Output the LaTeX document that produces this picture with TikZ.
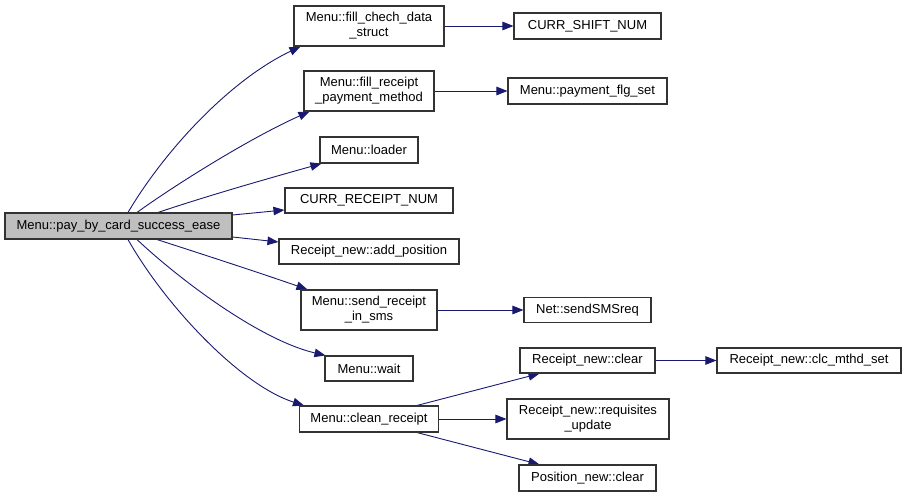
\documentclass[tikz,border=0pt]{standalone}
\usepackage{fontspec}
\setmainfont{Liberation Sans}
\usetikzlibrary{arrows.meta}
\pgfdeclarelayer{edges}
\pgfsetlayers{edges,main}
\definecolor{edgeblue}{HTML}{191970}
\definecolor{nodegray}{HTML}{BFBFBF}
\definecolor{bordergray}{HTML}{333333}
\begin{document}
\begin{tikzpicture}[x=1pt,y=1pt,
  fn/.style={draw=bordergray,line width=1.1pt,fill=white,inner sep=0pt,align=center,
    font=\fontsize{13}{15}\selectfont,text=black},
  callarrow/.style={draw=edgeblue,line width=0.9pt,-{Triangle[length=11pt,width=8.5pt]}}]
\useasboundingbox (0,0) rectangle (907,-497);
% nodes
\node[fn,fill=nodegray,minimum width=227pt,minimum height=26pt] (main) at (118.5,-226) {Menu::pay\_by\_card\_success\_ease};
\node[fn,minimum width=150pt,minimum height=40pt] (fcd) at (369,-26) {Menu::fill\_chech\_data\\\_struct};
\node[fn,minimum width=147pt,minimum height=26pt] (shift) at (587.5,-26) {CURR\_SHIFT\_NUM};
\node[fn,minimum width=130pt,minimum height=40pt] (frpm) at (369,-91) {Menu::fill\_receipt\\\_payment\_method};
\node[fn,minimum width=159pt,minimum height=26pt] (pfs) at (587.5,-91) {Menu::payment\_flg\_set};
\node[fn,minimum width=98pt,minimum height=26pt] (loader) at (369,-150) {Menu::loader};
\node[fn,minimum width=168pt,minimum height=25pt] (crn) at (369,-200.5) {CURR\_RECEIPT\_NUM};
\node[fn,minimum width=180pt,minimum height=25pt] (addpos) at (369,-251.5) {Receipt\_new::add\_position};
\node[fn,minimum width=136pt,minimum height=40pt] (srs) at (369,-310) {Menu::send\_receipt\\\_in\_sms};
\node[fn,minimum width=127pt,minimum height=25pt] (sms) at (587.5,-310) {Net::sendSMSreq};
\node[fn,minimum width=88pt,minimum height=25pt] (wait) at (369,-368.5) {Menu::wait};
\node[fn,minimum width=139pt,minimum height=26pt] (clean) at (369,-419) {Menu::clean\_receipt};
\node[fn,minimum width=135pt,minimum height=25pt] (rclear) at (587.5,-360.5) {Receipt\_new::clear};
\node[fn,minimum width=184pt,minimum height=25pt] (clc) at (809,-360.5) {Receipt\_new::clc\_mthd\_set};
\node[fn,minimum width=162pt,minimum height=40pt] (req) at (588,-419) {Receipt\_new::requisites\\\_update};
\node[fn,minimum width=137pt,minimum height=26pt] (pclear) at (587.5,-478) {Position\_new::clear};
\begin{pgfonlayer}{edges}
% edges from main
\draw[callarrow] ([xshift=9.5pt]main.north) .. controls (165,-150) and (230,-80) .. ([xshift=7pt]fcd.south west);
\draw[callarrow] ([xshift=18.5pt]main.north) .. controls (175,-185) and (250,-138) .. ([xshift=6pt]frpm.south west);
\draw[callarrow] ([xshift=39.5pt]main.north) .. controls (210,-195) and (270,-178) .. ([xshift=2pt]loader.south west);
\draw[callarrow] ([yshift=11pt]main.east) -- ([yshift=-9.5pt]crn.west);
\draw[callarrow] ([yshift=-11pt]main.east) -- ([yshift=9.5pt]addpos.west);
\draw[callarrow] ([xshift=38.5pt]main.south) .. controls (205,-255) and (260,-273) .. ([xshift=7pt]srs.north west);
\draw[callarrow] ([xshift=18.5pt]main.south) .. controls (180,-280) and (260,-340) .. ([xshift=1pt]wait.north west);
\draw[callarrow] ([xshift=9.5pt]main.south) .. controls (165,-305) and (240,-385) .. ([xshift=5pt]clean.north west);
% secondary edges
\draw[callarrow] (fcd.east) -- (shift.west);
\draw[callarrow] (frpm.east) -- (pfs.west);
\draw[callarrow] (srs.east) -- (sms.west);
\draw[callarrow] (rclear.east) -- (clc.west);
\draw[callarrow] ([xshift=-22pt]clean.north east) -- ([xshift=20pt]rclear.south west);
\draw[callarrow] (clean.east) -- (req.west);
\draw[callarrow] ([xshift=-22pt]clean.south east) -- ([xshift=21pt]pclear.north west);
\end{pgfonlayer}
\end{tikzpicture}
\end{document}
